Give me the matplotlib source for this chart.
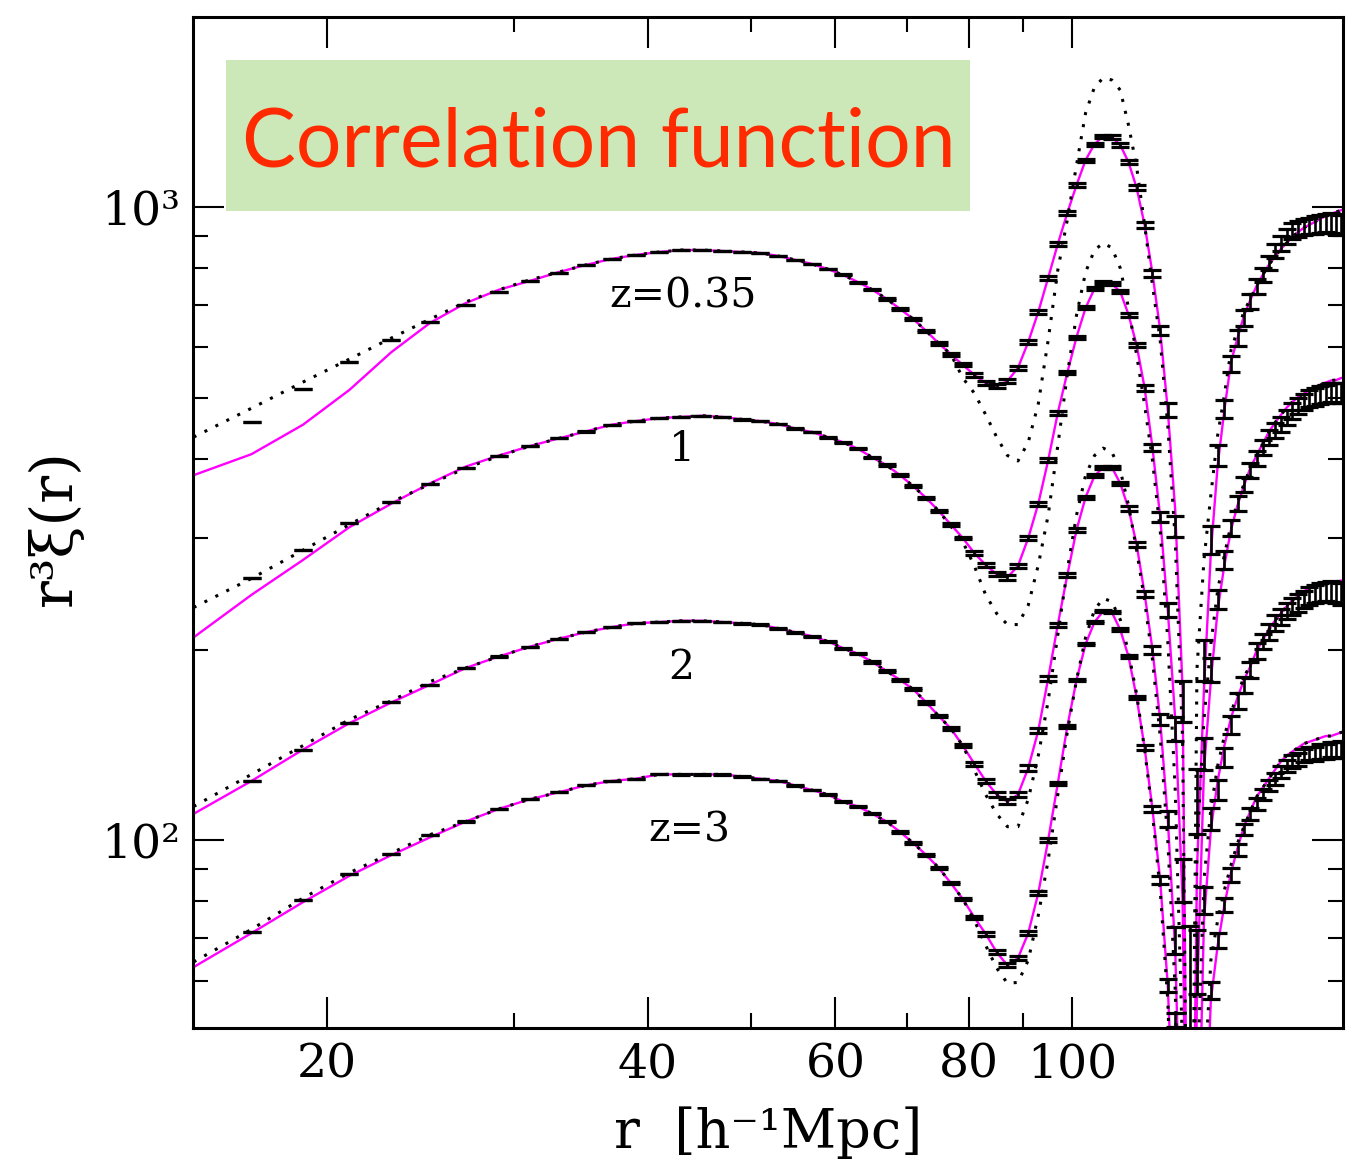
import numpy as np
import matplotlib.pyplot as plt
from matplotlib.patches import Rectangle
from matplotlib.ticker import FixedLocator, NullFormatter

plt.rcParams['font.family'] = ['DejaVu Serif']

# separation bins (h^-1 Mpc); lines run one bin further on each side
r_line = np.arange(15, 182, 2)
r_data = np.arange(17, 180, 2)

# r^3 xi(r), nonlinear model (magenta)
model_035 = [377, 407, 453, 514, 590, 656, 705, 740, 764, 789,
             810, 828, 840, 849, 855, 855, 852, 849, 846, 837,
             825, 813, 798, 781, 761, 740, 716, 690, 665, 637,
             609, 585, 563, 543, 527, 521, 531, 557, 612, 683,
             773, 874, 978, 1083, 1186, 1257, 1294, 1290, 1253, 1177,
             1072, 937, 786, 639, 478, 332, 173, 10, 89.7, 173,
             285, 391, 478, 569, 621, 673, 713, 750, 781, 810,
             834, 858, 877, 897, 913, 927, 937, 947, 958, 968,
             975, 982, 989, 993]
model_1 = [209, 244, 277, 312, 340, 366, 389, 405, 419, 431,
           442, 453, 459, 464, 466, 468, 466, 462, 459, 454,
           447, 441, 433, 425, 415, 402, 391, 377, 362, 347,
           331, 315, 300, 284, 272, 263, 260, 271, 300, 340,
           398, 473, 547, 623, 693, 743, 761, 756, 735, 676,
           605, 518, 417, 324, 231, 155, 80.4, 10, 55.9, 129,
           179, 231, 272, 309, 338, 363, 387, 405, 423, 441,
           456, 469, 482, 492, 501, 507, 514, 520, 524, 528,
           532, 533, 537, 539]
model_2 = [110, 124, 139, 153, 165, 176, 187, 195, 202, 208,
           213, 217, 220, 221, 222, 222, 221, 220, 219, 216,
           213, 210, 206, 201, 197, 191, 185, 179, 173, 165,
           157, 150, 141, 132, 124, 118, 115, 118, 130, 149,
           180, 219, 262, 309, 348, 376, 388, 388, 366, 334,
           293, 245, 200, 155, 108, 67.0, 25, 10, 25, 74.7,
           104, 124, 141, 156, 168, 179, 188, 199, 207, 215,
           222, 228, 234, 239, 243, 247, 250, 252, 253, 254,
           255, 256, 257, 258]
model_3 = [63.0, 71.3, 79.8, 87.8, 94.7, 101, 107, 112, 116, 119,
           122, 124, 125, 127, 127, 127, 127, 126, 125, 124,
           122, 120, 118, 115, 113, 110, 107, 103, 98.9, 94.7,
           90.4, 85.5, 80.7, 75.5, 71.1, 66.5, 63.4, 65.1, 71.3, 82.5,
           100, 123, 151, 179, 204, 221, 230, 229, 215, 195,
           168, 140, 112, 86.5, 59.0, 30, 15, 10, 15, 30,
           55.9, 68.2, 79.0, 88.8, 97.1, 105, 111, 117, 121, 125,
           129, 133, 136, 138, 140, 142, 143, 144, 145, 146,
           146, 147, 148, 148]

# linear theory (dotted)
lin_035 = [433, 481, 529, 575, 621, 665, 708, 740, 767, 789,
           810, 828, 840, 849, 855, 855, 852, 849, 846, 837,
           825, 813, 798, 781, 761, 740, 716, 690, 665, 637,
           609, 585, 537, 508, 470, 433, 405, 397, 425, 489,
           616, 795, 954, 1165, 1408, 1547, 1599, 1587, 1530, 1347,
           1157, 937, 753, 616, 452, 298, 144, 10, 186, 277,
           351, 436, 505, 594, 639, 683, 716, 750, 781, 810,
           834, 858, 877, 897, 913, 927, 937, 947, 958, 968,
           975, 982, 989, 993]
lin_1 = [233, 259, 287, 315, 342, 365, 387, 404, 419, 431,
         442, 453, 459, 464, 466, 468, 466, 462, 459, 454,
         447, 441, 433, 425, 415, 402, 391, 377, 362, 347,
         331, 313, 296, 271, 244, 228, 219, 219, 235, 272,
         326, 420, 543, 675, 789, 855, 877, 862, 801, 693,
         584, 487, 398, 309, 207, 120, 46.5, 10, 96.4, 155,
         204, 248, 282, 315, 342, 365, 387, 405, 423, 441,
         456, 469, 482, 492, 501, 507, 514, 520, 524, 528,
         532, 533, 537, 539]
lin_2 = [113, 127, 141, 155, 166, 178, 187, 195, 202, 208,
         213, 217, 220, 221, 222, 222, 221, 220, 219, 216,
         213, 210, 206, 201, 197, 191, 185, 179, 173, 165,
         157, 150, 141, 129, 118, 110, 105, 105, 116, 136,
         166, 211, 267, 326, 377, 405, 416, 410, 384, 338,
         287, 239, 193, 146, 100, 57.9, 20, 10, 40, 86.5,
         112, 131, 146, 159, 170, 181, 189, 199, 207, 215,
         222, 228, 234, 239, 243, 247, 250, 252, 253, 254,
         255, 256, 257, 258]
lin_3 = [64.2, 72.3, 81.0, 88.8, 95.4, 102, 107, 112, 116, 119,
         122, 124, 125, 127, 127, 127, 127, 126, 125, 124,
         122, 120, 118, 115, 113, 110, 107, 103, 98.9, 94.7,
         90.4, 85.5, 80.7, 74.7, 68.2, 62.8, 59.4, 59.6, 64.6, 76.1,
         93.0, 118, 148, 179, 209, 231, 241, 238, 223, 198,
         170, 139, 110, 83.4, 55.9, 25, 12, 10, 20, 40,
         64.6, 74.7, 83.4, 91.3, 98.9, 105, 111, 117, 121, 125,
         129, 133, 136, 138, 140, 142, 143, 144, 145, 146,
         146, 147, 148, 148]

# simulation measurements
data_035 = [458, 516, 569, 616, 658, 700, 735, 764, 786, 810,
            828, 840, 849, 855, 855, 852, 849, 846, 837, 825,
            813, 798, 781, 761, 740, 716, 690, 665, 637, 609,
            585, 563, 543, 527, 521, 531, 557, 612, 683, 773,
            874, 978, 1083, 1186, 1257, 1294, 1290, 1253, 1177, 1072,
            937, 786, 639, 478, 313, 166, 60, 116, 193, 298,
            405, 480, 565, 621, 668, 710, 748, 781, 816, 852,
            876, 900, 917, 924, 930, 934, 937, 941, 944, 944,
            941, 937]
data_1 = [259, 287, 317, 342, 365, 387, 404, 419, 431, 442,
          453, 459, 464, 466, 468, 466, 462, 459, 454, 447,
          441, 433, 425, 415, 402, 391, 377, 362, 347, 331,
          315, 300, 284, 272, 263, 260, 271, 300, 340, 398,
          473, 547, 623, 693, 743, 761, 756, 735, 676, 605,
          518, 417, 324, 231, 150, 86.5, 35, 64.6, 137, 186,
          240, 277, 311, 340, 365, 384, 401, 417, 433, 444,
          454, 465, 476, 485, 492, 498, 501, 505, 507, 509,
          509, 509]
data_2 = [124, 139, 153, 165, 176, 187, 195, 202, 208, 213,
          217, 220, 221, 222, 222, 221, 220, 219, 216, 213,
          210, 206, 201, 197, 191, 185, 179, 173, 165, 157,
          150, 141, 132, 124, 118, 115, 118, 130, 149, 180,
          219, 262, 309, 348, 376, 388, 388, 366, 334, 293,
          245, 200, 155, 108, 69.5, 45, 30, 40, 80.4, 108,
          120, 135, 152, 166, 176, 186, 199, 206, 213, 220,
          225, 230, 234, 237, 240, 243, 245, 246, 247, 247,
          246, 245]
data_3 = [71.6, 80.4, 88.4, 95.0, 102, 107, 112, 116, 119, 122,
          124, 125, 127, 127, 127, 127, 126, 125, 124, 122,
          120, 118, 115, 113, 110, 107, 103, 98.9, 94.7, 90.4,
          85.5, 80.7, 75.5, 71.1, 66.5, 63.4, 65.1, 71.3, 82.5, 100,
          123, 151, 179, 204, 221, 230, 229, 215, 195, 168,
          140, 112, 86.5, 59.0, 52, 40, 30, 35, 45, 57.9,
          69.5, 79.0, 88.1, 96.4, 104, 110, 114, 118, 122, 125,
          128, 131, 133, 134, 136, 137, 137, 138, 138, 139,
          139, 139]

err_035 = [0.03, 0.04, 0.06, 0.07, 0.1, 0.12, 0.15, 0.18, 0.22, 0.26,
           0.31, 0.36, 0.42, 0.49, 0.56, 0.63, 0.72, 0.81, 0.91, 1.0,
           1.1, 1.25, 1.4, 1.5, 1.7, 1.8, 2.0, 2.2, 2.4, 2.6,
           2.8, 3.0, 3.2, 3.5, 3.7, 4.0, 4.3, 4.6, 4.9, 5.2,
           5.6, 5.9, 6.3, 6.7, 7.1, 7.5, 7.9, 8.3, 8.8, 9.3,
           9.8, 10.3, 10.8, 11.4, 11.9, 12.5, 13.1, 13.7, 14.4, 15.0,
           15.7, 16.4, 17.1, 17.8, 18.6, 19.4, 20.2, 21.0, 21.9, 22.7,
           23.6, 24.5, 25.5, 26.4, 27.4, 28.4, 29.5, 30.5, 31.6, 32.7,
           33.8, 35.0]
err_1 = [0.02, 0.02, 0.03, 0.04, 0.05, 0.06, 0.08, 0.1, 0.12, 0.14,
         0.17, 0.19, 0.23, 0.26, 0.3, 0.34, 0.39, 0.44, 0.49, 0.54,
         0.59, 0.68, 0.76, 0.81, 0.92, 0.97, 1.1, 1.2, 1.3, 1.4,
         1.5, 1.6, 1.7, 1.9, 2.0, 2.2, 2.3, 2.5, 2.6, 2.8,
         3.0, 3.2, 3.4, 3.6, 3.8, 4.1, 4.3, 4.5, 4.8, 5.0,
         5.3, 5.6, 5.8, 6.2, 6.4, 6.8, 7.1, 7.4, 7.8, 8.1,
         8.5, 8.9, 9.2, 9.6, 10.0, 10.5, 10.9, 11.3, 11.8, 12.3,
         12.7, 13.2, 13.8, 14.3, 14.8, 15.3, 15.9, 16.5, 17.1, 17.7,
         18.3, 18.9]
err_2 = [0.01, 0.01, 0.02, 0.02, 0.03, 0.03, 0.04, 0.05, 0.06, 0.07,
         0.09, 0.1, 0.12, 0.14, 0.16, 0.18, 0.2, 0.23, 0.25, 0.28,
         0.31, 0.35, 0.39, 0.42, 0.48, 0.5, 0.56, 0.62, 0.67, 0.73,
         0.78, 0.84, 0.9, 0.98, 1.0, 1.1, 1.2, 1.3, 1.4, 1.5,
         1.6, 1.7, 1.8, 1.9, 2.0, 2.1, 2.2, 2.3, 2.5, 2.6,
         2.7, 2.9, 3.0, 3.2, 3.3, 3.5, 3.7, 3.8, 4.0, 4.2,
         4.4, 4.6, 4.8, 5.0, 5.2, 5.4, 5.7, 5.9, 6.1, 6.4,
         6.6, 6.9, 7.1, 7.4, 7.7, 8.0, 8.3, 8.5, 8.8, 9.2,
         9.5, 9.8]
err_3 = [0.004, 0.005, 0.007, 0.009, 0.011, 0.014, 0.018, 0.022, 0.026, 0.031,
         0.037, 0.043, 0.05, 0.059, 0.067, 0.076, 0.086, 0.097, 0.11, 0.12,
         0.13, 0.15, 0.17, 0.18, 0.2, 0.22, 0.24, 0.26, 0.29, 0.31,
         0.34, 0.36, 0.38, 0.42, 0.44, 0.48, 0.52, 0.55, 0.59, 0.62,
         0.67, 0.71, 0.76, 0.8, 0.85, 0.9, 0.95, 1.0, 1.1, 1.1,
         1.2, 1.2, 1.3, 1.4, 1.4, 1.5, 1.6, 1.6, 1.7, 1.8,
         1.9, 2.0, 2.1, 2.1, 2.2, 2.3, 2.4, 2.5, 2.6, 2.7,
         2.8, 2.9, 3.1, 3.2, 3.3, 3.4, 3.5, 3.7, 3.8, 3.9,
         4.1, 4.2]

z_labels = ['z=0.35', '1', '2', 'z=3']
label_pos = [(0.426, 0.713), (0.425, 0.561), (0.425, 0.345), (0.432, 0.184)]

models = [model_035, model_1, model_2, model_3]
linears = [lin_035, lin_1, lin_2, lin_3]
datas = [data_035, data_1, data_2, data_3]
errs = [err_035, err_1, err_2, err_3]

fig = plt.figure(figsize=(13.54, 11.68), dpi=100)
ax = fig.add_axes([0.1425, 0.1199, 0.8494, 0.8656])

for mod, lin, dat, err in zip(models, linears, datas, errs):
    ax.plot(r_line, mod, color='#ff00ff', lw=1.7, zorder=2)
    ax.plot(r_line, lin, color='black', lw=2.2, linestyle=(0, (1, 3)), zorder=3)
    ax.errorbar(r_data, dat, yerr=err, fmt='none', ecolor='black',
                elinewidth=1.9, capsize=6.2, capthick=2.3, zorder=4)

for lab, (px, py) in zip(z_labels, label_pos):
    ax.text(px, py, lab, transform=ax.transAxes, ha='center', va='baseline',
            fontsize=29.5)

ax.set_xscale('log')
ax.set_yscale('log')
ax.set_xlim(14.98, 179.6)
ax.set_ylim(50.5, 1996)

ax.xaxis.set_major_locator(FixedLocator([20, 40, 60, 80, 100]))
ax.xaxis.set_minor_locator(FixedLocator([30, 50, 70, 90]))
ax.set_xticklabels(['20', '40', '60', '80', '100'])
ax.xaxis.set_minor_formatter(NullFormatter())
ax.yaxis.set_major_locator(FixedLocator([100, 1000]))
ax.yaxis.set_minor_locator(FixedLocator([60, 70, 80, 90, 200, 300, 400, 500,
                                         600, 700, 800, 900]))
ax.set_yticklabels(['10²', '10³'])
ax.yaxis.set_minor_formatter(NullFormatter())

ax.tick_params(which='both', direction='in', top=True, right=True, width=1.5)
ax.tick_params(which='major', length=22, labelsize=34)
ax.tick_params(which='minor', length=11)
ax.tick_params(axis='x', which='major', pad=10)
ax.tick_params(axis='y', which='major', pad=9)
for sp in ax.spines.values():
    sp.set_linewidth(2.2)

ax.set_xlabel('r  [h⁻¹Mpc]', fontsize=39)
ax.xaxis.label.set_va('center')
ax.xaxis.set_label_coords(0.5, -0.104)
ax.set_ylabel('r³ξ(r)', fontsize=42)
ax.yaxis.label.set_va('center')
ax.yaxis.set_label_coords(-0.12, 0.495)

# title box
ax.add_patch(Rectangle((0.0287, 0.8081), 0.647, 0.1494, transform=ax.transAxes,
                       facecolor='#cde8b8', edgecolor='none', zorder=5))
ax.text(0.3526, 0.8516, 'Correlation function', transform=ax.transAxes,
        ha='center', va='baseline', fontsize=58, family=['Lato', 'DejaVu Sans'],
        color='#ff2a00', zorder=6)

fig.savefig('out.png', dpi=100)
